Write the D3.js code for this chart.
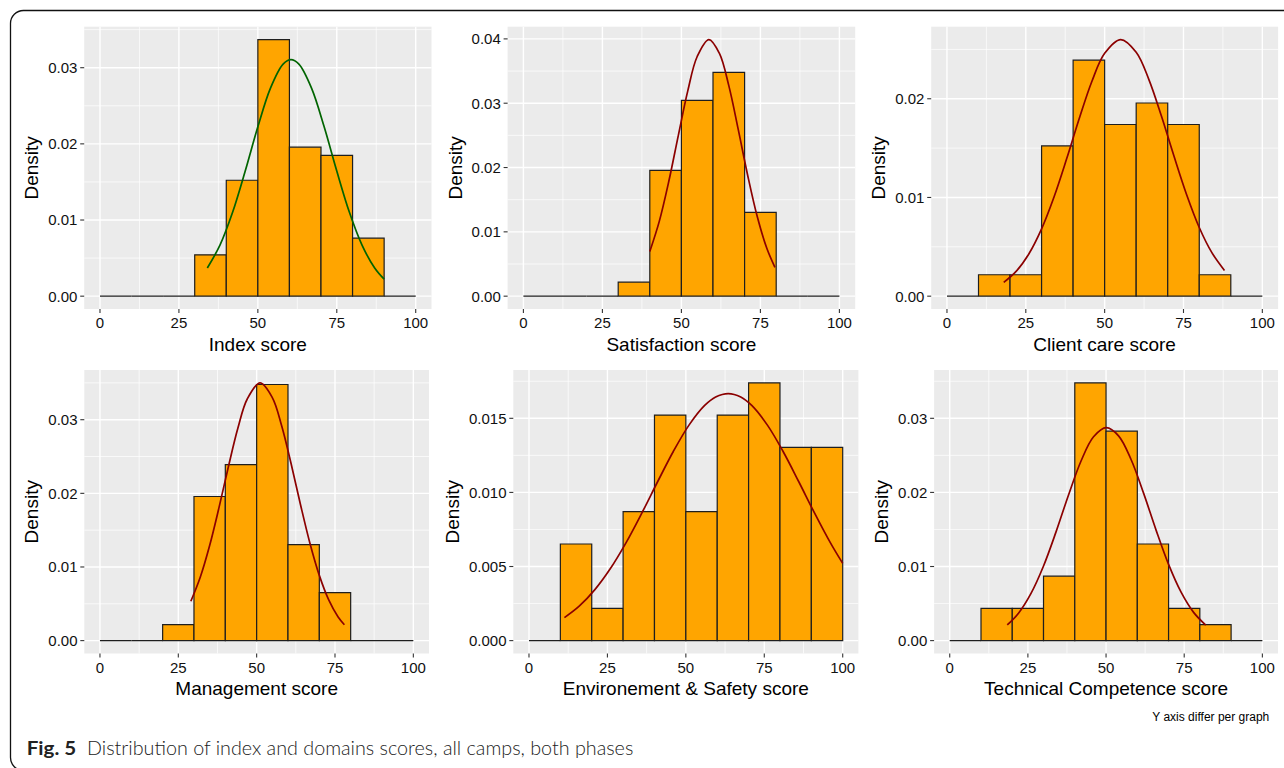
<!DOCTYPE html>
<html>
<head>
<meta charset="utf-8">
<script src="https://cdn.jsdelivr.net/npm/d3@7"></script>
<style>
  html, body { margin: 0; padding: 0; background: #ffffff; }
  svg { display: block; }
</style>
</head>
<body>
<svg id="chart" width="1284" height="768"></svg>
<script>
// ---------------- DATA ----------------
const binStarts = [0, 10, 20, 30, 40, 50, 60, 70, 80, 90];
const binWidth = 10;
const xTickLabels = ["0", "25", "50", "75", "100"];

const panelTitles = ["Index score", "Satisfaction score", "Client care score",
                     "Management score", "Environement & Safety score", "Technical Competence score"];

// histogram densities per bin (0-10 ... 90-100)
const indexDensity        = [0, 0, 0, 0.00543, 0.01522, 0.03370, 0.01957, 0.01848, 0.00761, 0];
const satisfactionDensity = [0, 0, 0, 0.00217, 0.01957, 0.03043, 0.03478, 0.01304, 0, 0];
const clientCareDensity   = [0, 0.00217, 0.00217, 0.01522, 0.02391, 0.01739, 0.01957, 0.01739, 0.00217, 0];
const managementDensity   = [0, 0, 0.00217, 0.01957, 0.02391, 0.03478, 0.01304, 0.00652, 0, 0];
const environmentDensity  = [0, 0.00652, 0.00217, 0.00870, 0.01522, 0.00870, 0.01522, 0.01739, 0.01304, 0.01304];
const technicalDensity    = [0, 0.00435, 0.00435, 0.00870, 0.03478, 0.02826, 0.01304, 0.00435, 0.00217, 0];

// fitted density curves
const indexCurveX = [34, 38, 42, 46, 50, 54, 58, 60.5, 63, 67, 71, 75, 79, 83, 87, 90];
const indexCurveY = [0.00370, 0.00670, 0.01101, 0.01643, 0.02224, 0.02732, 0.03047, 0.03105, 0.03047, 0.02732, 0.02224, 0.01643, 0.01101, 0.00670, 0.00370, 0.00223];

const satisfactionCurveX = [40, 43, 46, 49, 52, 55, 58.7, 62, 65, 68, 71, 74, 77, 79.6];
const satisfactionCurveY = [0.00695, 0.01163, 0.01782, 0.02493, 0.03188, 0.03726, 0.03990, 0.03778, 0.03273, 0.02589, 0.01873, 0.01238, 0.00748, 0.00449];

const clientCareCurveX = [18, 22, 26, 30, 34, 38, 42, 46, 50, 55.1, 60, 64, 68, 72, 76, 80, 84, 88];
const clientCareCurveY = [0.00140, 0.00254, 0.00430, 0.00682, 0.01010, 0.01397, 0.01805, 0.02180, 0.02460, 0.02600, 0.02471, 0.02197, 0.01825, 0.01417, 0.01028, 0.00696, 0.00441, 0.00261];

const managementCurveX = [29, 32, 35, 38, 41, 44, 47, 51.1, 55, 58, 61, 64, 67, 70, 73, 76, 78];
const managementCurveY = [0.00534, 0.00860, 0.01291, 0.01809, 0.02364, 0.02883, 0.03281, 0.03500, 0.03301, 0.02915, 0.02401, 0.01845, 0.01323, 0.00886, 0.00553, 0.00322, 0.00216];

const environmentCurveX = [11.3, 16, 21, 26, 31, 36, 41, 46, 51, 56, 59.5, 63.5, 67.5, 71, 76, 81, 86, 91, 96, 100];
const environmentCurveY = [0.00155, 0.00232, 0.00344, 0.00488, 0.00663, 0.00862, 0.01072, 0.01276, 0.01454, 0.01587, 0.01644, 0.01667, 0.01644, 0.01587, 0.01454, 0.01276, 0.01072, 0.00862, 0.00663, 0.00521];

const technicalCurveX = [18.4, 22, 26, 30, 34, 38, 42, 46, 50.1, 54, 58, 62, 66, 70, 74, 78, 81.9];
const technicalCurveY = [0.00212, 0.00370, 0.00637, 0.01007, 0.01467, 0.01966, 0.02424, 0.02751, 0.02874, 0.02763, 0.02444, 0.01990, 0.01491, 0.01028, 0.00653, 0.00381, 0.00208];

// y tick labels per panel
const indexYTicks        = ["0.00", "0.01", "0.02", "0.03"];
const satisfactionYTicks = ["0.00", "0.01", "0.02", "0.03", "0.04"];
const clientCareYTicks   = ["0.00", "0.01", "0.02"];
const managementYTicks   = ["0.00", "0.01", "0.02", "0.03"];
const environmentYTicks  = ["0.000", "0.005", "0.010", "0.015"];
const technicalYTicks    = ["0.00", "0.01", "0.02", "0.03"];

const captionBold = "Fig. 5";
const captionText = "Distribution of index and domains scores, all camps, both phases";
const noteText = "Y axis differ per graph";

// ---------------- LAYOUT ----------------
const panels = [
  { title: panelTitles[0], dens: indexDensity,        cx: indexCurveX,        cy: indexCurveY,        ticks: indexYTicks,        color: "#006400", box: [84.2, 26.7, 431.5, 309] },
  { title: panelTitles[1], dens: satisfactionDensity, cx: satisfactionCurveX, cy: satisfactionCurveY, ticks: satisfactionYTicks, color: "#8B0000", box: [507.6, 26.7, 855.2, 309] },
  { title: panelTitles[2], dens: clientCareDensity,   cx: clientCareCurveX,   cy: clientCareCurveY,   ticks: clientCareYTicks,   color: "#8B0000", box: [931.2, 26.7, 1278.1, 309] },
  { title: panelTitles[3], dens: managementDensity,   cx: managementCurveX,   cy: managementCurveY,   ticks: managementYTicks,   color: "#8B0000", box: [84.3, 370, 429.0, 653.5] },
  { title: panelTitles[4], dens: environmentDensity,  cx: environmentCurveX,  cy: environmentCurveY,  ticks: environmentYTicks,  color: "#8B0000", box: [513.3, 370, 858.4, 653.5] },
  { title: panelTitles[5], dens: technicalDensity,    cx: technicalCurveX,    cy: technicalCurveY,    ticks: technicalYTicks,    color: "#8B0000", box: [934.1, 370, 1278.0, 653.5] }
];

const svg = d3.select("#chart");
const FONT = "'Liberation Sans', Arial, Helvetica, sans-serif";

// outer rounded frame
svg.append("rect")
  .attr("x", 10.5).attr("y", 10.5)
  .attr("width", 1300).attr("height", 760)
  .attr("rx", 13).attr("ry", 13)
  .attr("fill", "none").attr("stroke", "#111").attr("stroke-width", 1.3);

panels.forEach(p => {
  const [L, T, R, B] = p.box;
  const x = d3.scaleLinear().domain([-5, 105]).range([L, R]);
  const maxV = Math.max(d3.max(p.dens), d3.max(p.cy));
  const y = d3.scaleLinear().domain([-0.05 * maxV, 1.05 * maxV]).range([B, T]);

  const g = svg.append("g");

  // panel background
  g.append("rect").attr("x", L).attr("y", T).attr("width", R - L).attr("height", B - T).attr("fill", "#EBEBEB");

  // grid
  const xMajor = xTickLabels.map(Number);
  const yMajor = p.ticks.map(Number);
  const minorOf = (maj, dom) => {
    const step = maj[1] - maj[0];
    const out = [];
    for (let i = -1; i < maj.length; i++) {
      const v = maj[0] + step * (i + 0.5);
      if (v > dom[0] && v < dom[1]) out.push(v);
    }
    return out;
  };
  const xMinor = minorOf(xMajor, x.domain());
  const yMinor = minorOf(yMajor, y.domain());

  g.selectAll(".xminor").data(xMinor).enter().append("line")
    .attr("x1", d => x(d)).attr("x2", d => x(d)).attr("y1", T).attr("y2", B)
    .attr("stroke", "#fff").attr("stroke-width", 0.7);
  g.selectAll(".yminor").data(yMinor).enter().append("line")
    .attr("y1", d => y(d)).attr("y2", d => y(d)).attr("x1", L).attr("x2", R)
    .attr("stroke", "#fff").attr("stroke-width", 0.7);
  g.selectAll(".xmajor").data(xMajor).enter().append("line")
    .attr("x1", d => x(d)).attr("x2", d => x(d)).attr("y1", T).attr("y2", B)
    .attr("stroke", "#fff").attr("stroke-width", 1.4);
  g.selectAll(".ymajor").data(yMajor).enter().append("line")
    .attr("y1", d => y(d)).attr("y2", d => y(d)).attr("x1", L).attr("x2", R)
    .attr("stroke", "#fff").attr("stroke-width", 1.4);

  // histogram bars (zero bins drawn as outline only)
  g.selectAll(".bar").data(binStarts.map((s, i) => ({ s, v: p.dens[i] }))).enter().append("path")
    .attr("d", d => {
      const x0 = x(d.s), x1 = x(d.s + binWidth), y0 = y(0), y1 = y(d.v);
      return `M${x0},${y0}V${y1}H${x1}V${y0}Z`;
    })
    .attr("fill", "#FFA500").attr("stroke", "#1e1e1e").attr("stroke-width", 1.2)
    .attr("stroke-linejoin", "miter");

  // density curve
  const line = d3.line().x(d => x(d[0])).y(d => y(d[1])).curve(d3.curveCatmullRom.alpha(0.5));
  g.append("path").datum(p.cx.map((v, i) => [v, p.cy[i]]))
    .attr("d", line).attr("fill", "none")
    .attr("stroke", p.color).attr("stroke-width", 1.7);

  // x axis ticks + labels
  g.selectAll(".xt").data(xMajor).enter().append("line")
    .attr("x1", d => x(d)).attr("x2", d => x(d)).attr("y1", B).attr("y2", B + 4)
    .attr("stroke", "#333").attr("stroke-width", 1.1);
  g.selectAll(".xl").data(xTickLabels).enter().append("text")
    .attr("x", d => x(+d)).attr("y", B + 19.3)
    .attr("text-anchor", "middle")
    .attr("font-family", FONT).attr("font-size", 15).attr("fill", "#111")
    .text(d => d);

  // y axis ticks + labels
  g.selectAll(".yt").data(yMajor).enter().append("line")
    .attr("x1", L - 4).attr("x2", L).attr("y1", d => y(d)).attr("y2", d => y(d))
    .attr("stroke", "#333").attr("stroke-width", 1.1);
  const yl = g.selectAll(".yl").data(p.ticks).enter().append("text")
    .attr("x", L - 6.8).attr("y", d => y(+d)).attr("dy", "0.36em")
    .attr("text-anchor", "end")
    .attr("font-family", FONT).attr("font-size", 15).attr("fill", "#111")
    .text(d => d);
  let maxW = 0;
  yl.each(function () { maxW = Math.max(maxW, this.getComputedTextLength()); });

  // axis titles
  g.append("text")
    .attr("x", (L + R) / 2).attr("y", B + 41.5)
    .attr("text-anchor", "middle")
    .attr("font-family", FONT).attr("font-size", 19).attr("fill", "#000")
    .text(p.title);
  const tx = L - 6.8 - maxW - 10;
  g.append("text")
    .attr("transform", `translate(${tx},${(T + B) / 2}) rotate(-90)`)
    .attr("text-anchor", "middle")
    .attr("font-family", FONT).attr("font-size", 19).attr("fill", "#000")
    .text("Density");
});

// note
svg.append("text")
  .attr("x", 1269.3).attr("y", 720.7)
  .attr("text-anchor", "end")
  .attr("font-family", FONT).attr("font-size", 12).attr("fill", "#000")
  .text(noteText);

// caption
svg.append("text")
  .attr("x", 26.7).attr("y", 755)
  .attr("font-family", "Lato, 'Open Sans', sans-serif").attr("font-weight", 700).attr("font-size", 19)
  .attr("fill", "#222")
  .attr("textLength", 49.5).attr("lengthAdjust", "spacingAndGlyphs")
  .text(captionBold);
svg.append("text")
  .attr("x", 87).attr("y", 755)
  .attr("font-family", "Lato, 'Open Sans', sans-serif").attr("font-weight", 300).attr("font-size", 19)
  .attr("fill", "#222")
  .attr("textLength", 546.3).attr("lengthAdjust", "spacingAndGlyphs")
  .text(captionText);
</script>
</body>
</html>
